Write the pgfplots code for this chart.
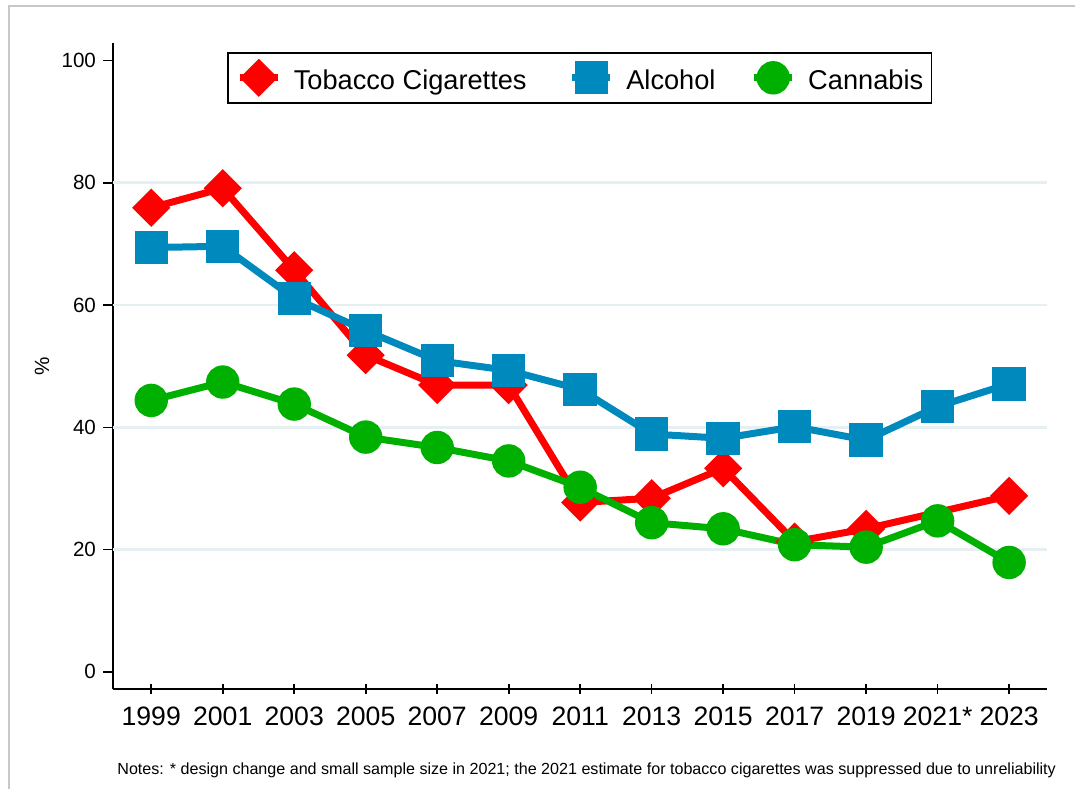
\documentclass[border=0pt]{standalone}
\usepackage{fontspec}
\setmainfont{Liberation Sans}
\usepackage{pgfplots}
\pgfplotsset{compat=1.18}
\definecolor{tobred}{RGB}{255,0,0}
\definecolor{alcblue}{RGB}{0,137,189}
\definecolor{cangreen}{RGB}{0,176,0}
\definecolor{gridc}{RGB}{230,239,241}
\definecolor{framec}{RGB}{200,200,200}
\begin{document}
\begin{tikzpicture}
\useasboundingbox (0,0) rectangle (537.5pt,394.5pt);
\draw[framec, line width=1pt] (4.5pt,0) -- (4.5pt,391.5pt) -- (537.5pt,391.5pt);
\begin{axis}[
  at={(56.5pt,50pt)}, anchor=south west,
  scale only axis, width=467pt, height=323pt,
  xmin=1997.93, xmax=2024.06, ymin=-2.8, ymax=102.85,
  axis lines*=left,
  axis line style={line width=0.8pt},
  xtick={1999,2001,...,2023},
  xticklabels={1999,2001,2003,2005,2007,2009,2011,2013,2015,2017,2019,2021*,2023},
  ytick={0,20,...,100},
  xtick align=center, ytick align=outside,
  major tick length=5pt,
  every tick/.style={black, line width=0.8pt},
  /pgf/number format/assume math mode=true,
  xticklabel style={font=\fontsize{13.3}{16}\selectfont, yshift=-3pt},
  yticklabel style={font=\fontsize{10.3}{12}\selectfont},
  extra y ticks={20,40,60,80},
  extra y tick labels={},
  extra y tick style={grid=major, major tick length=0pt, major grid style={gridc, line width=1.3pt}},
  ylabel={\%},
  ylabel style={at={(axis description cs:-0.076,0.5)}, anchor=center, font=\fontsize{10.3}{12}\selectfont},
  legend columns=3,
  legend cell align=left,
  legend style={at={(axis description cs:0.12206,0.98607)}, anchor=north west,
    draw=black, line width=0.8pt, inner xsep=4.25pt, inner ysep=4.5pt,
    font=\fontsize{13.6}{16}\selectfont,
    nodes={inner xsep=0pt, inner ysep=0pt, text height=14pt, text depth=2pt},
    /tikz/column 1/.style={column sep=6.25pt},
    /tikz/column 2/.style={column sep=21.1pt},
    /tikz/column 3/.style={column sep=6.25pt},
    /tikz/column 4/.style={column sep=17.6pt},
    /tikz/column 5/.style={column sep=6.25pt}},
  legend image code/.code={\draw[mark repeat=2,mark phase=2] plot coordinates {(0pt,0pt) (9.5pt,0pt) (19pt,0pt)};},
]
\addplot[tobred, line width=3.5pt, mark=square*, mark size=5pt, mark options={rotate=45, draw=none, fill=tobred}]
coordinates {(1999,75.9) (2001,79.1) (2003,65.7) (2005,51.8) (2007,46.9) (2009,46.9) (2011,27.7) (2013,28.4) (2015,33.3) (2017,21.3) (2019,23.4) (2023,28.8)};
\addlegendentry{Tobacco Cigarettes}
\addplot[alcblue, line width=3.5pt, mark=square*, mark size=6.6pt, mark options={draw=none, fill=alcblue}]
coordinates {(1999,69.4) (2001,69.6) (2003,61.1) (2005,55.8) (2007,50.9) (2009,49.3) (2011,46.2) (2013,38.9) (2015,38.2) (2017,40.1) (2019,37.9) (2021,43.4) (2023,47.1)};
\addlegendentry{Alcohol}
\addplot[cangreen, line width=3.5pt, mark=*, mark size=6.6pt, mark options={draw=none, fill=cangreen}]
coordinates {(1999,44.4) (2001,47.4) (2003,43.8) (2005,38.4) (2007,36.7) (2009,34.5) (2011,30.2) (2013,24.4) (2015,23.4) (2017,20.8) (2019,20.4) (2021,24.7) (2023,17.9)};
\addlegendentry{Cannabis\hspace{2.25pt}}
\end{axis}
\node[anchor=base west, inner sep=0pt, font=\fontsize{8.05}{10}\selectfont] at (58.5pt,7.5pt) {Notes: * design change and small sample size in 2021; the 2021 estimate for tobacco cigarettes was suppressed due to unreliability};
\end{tikzpicture}
\end{document}
